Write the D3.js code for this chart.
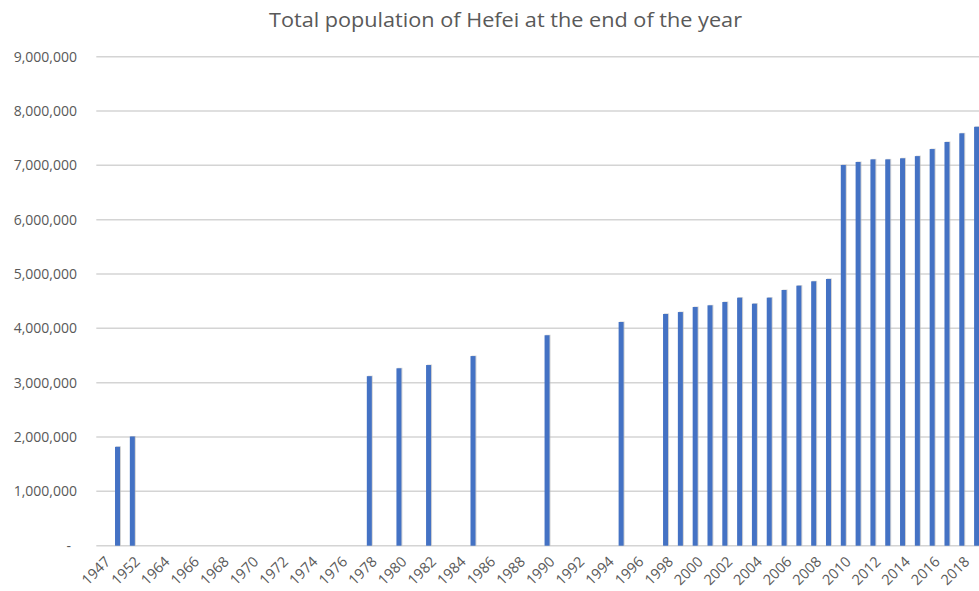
<!DOCTYPE html>
<html>
<head>
<meta charset="utf-8">
<script src="https://cdn.jsdelivr.net/npm/d3@7"></script>
<style>
  html, body { margin: 0; padding: 0; background: #fff; }
  svg { display: block; }
  text { font-family: "Open Sans", "Noto Sans", sans-serif; fill: #595959; }
</style>
</head>
<body>
<svg id="chart" width="979" height="591"></svg>
<script>
// Year categories on the x axis (one band per year listed)
const years = [
  "1947", "1949", "1952", "1957",
  "1964", "1965", "1966", "1967", "1968", "1969", "1970", "1971", "1972", "1973",
  "1974", "1975", "1976", "1977", "1978", "1979", "1980", "1981", "1982", "1983",
  "1984", "1985", "1986", "1987", "1988", "1989", "1990", "1991", "1992", "1993",
  "1994", "1995", "1996", "1997", "1998", "1999", "2000", "2001", "2002", "2003",
  "2004", "2005", "2006", "2007", "2008", "2009", "2010", "2011", "2012", "2013",
  "2014", "2015", "2016", "2017", "2018", "2019"
];

// Year-end total population; null where no figure is recorded
const population = [
  null, 1820000, 2010000, null,
  null, null, null, null, null, null, null, null, null, null,
  null, null, null, null, 3120000, null, 3265000, null, 3325000, null,
  null, 3490000, null, null, null, null, 3873000, null, null, null,
  null, 4117000, null, null, 4265000, 4300000, 4393000, 4424000, 4485000, 4565000,
  4454000, 4565000, 4706000, 4786000, 4866000, 4909000, 7007000, 7062000, 7110000, 7110000,
  7130000, 7170000, 7300000, 7430000, 7590000, 7710000
];

// Value axis ticks
const yTicks = [0, 1000000, 2000000, 3000000, 4000000, 5000000, 6000000, 7000000, 8000000, 9000000];

const chartTitle = "Total population of Hefei at the end of the year";

const svg = d3.select("#chart");

const plotLeft = 95.3, plotRight = 984, plotTop = 56.7, plotBottom = 545.7;

const x = d3.scaleBand()
  .domain(years)
  .range([plotLeft, plotRight])
  .paddingInner(0)
  .paddingOuter(0);

const y = d3.scaleLinear()
  .domain([0, 9000000])
  .range([plotBottom, plotTop]);

const barW = 5;

// Title
svg.append("text")
  .attr("x", 505.5)
  .attr("y", 26.5)
  .attr("text-anchor", "middle")
  .attr("font-size", 19.5)
  .attr("textLength", 473)
  .attr("lengthAdjust", "spacingAndGlyphs")
  .text(chartTitle);

// Horizontal gridlines
svg.append("g")
  .selectAll("line")
  .data(yTicks)
  .join("line")
  .attr("x1", plotLeft + 1)
  .attr("x2", plotRight)
  .attr("y1", d => y(d))
  .attr("y2", d => y(d))
  .attr("stroke", "#d4d4d4")
  .attr("stroke-width", 1.5);

// Y tick labels (zero shown as a dash)
const fmt = d3.format(",");
svg.append("g")
  .selectAll("text")
  .data(yTicks)
  .join("text")
  .attr("x", d => d === 0 ? 71 : 77)
  .attr("y", d => y(d))
  .attr("dy", "0.35em")
  .attr("text-anchor", "end")
  .attr("font-size", 14)
  .text(d => d === 0 ? "-" : fmt(d));

const rows = years.map((yr, i) => ({ year: yr, value: population[i] }))
  .filter(d => d.value != null);

// Soft shadow behind bars
svg.append("g")
  .selectAll("rect")
  .data(rows)
  .join("rect")
  .attr("x", d => x(d.year) + x.bandwidth() / 2 - barW / 2 + 1)
  .attr("y", d => y(d.value) - 0.5)
  .attr("width", barW)
  .attr("height", d => y(0) - y(d.value) + 0.5)
  .attr("fill", "#b8b8b8")
  .attr("opacity", 0.6);

// Bars
svg.append("g")
  .selectAll("rect")
  .data(rows)
  .join("rect")
  .attr("x", d => x(d.year) + x.bandwidth() / 2 - barW / 2)
  .attr("y", d => y(d.value))
  .attr("width", barW)
  .attr("height", d => y(0) - y(d.value))
  .attr("fill", "#4472c4");

// X labels, every other year, rotated
svg.append("g")
  .selectAll("text")
  .data(years.filter((d, i) => i % 2 === 0))
  .join("text")
  .attr("transform", d => `translate(${x(d) + x.bandwidth() / 2 + 5},${559}) rotate(-45)`)
  .attr("text-anchor", "end")
  .attr("dy", "0.35em")
  .attr("font-size", 14.5)
  .text(d => d);
</script>
</body>
</html>
